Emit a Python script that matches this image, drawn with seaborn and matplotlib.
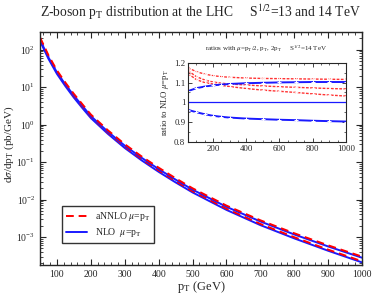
import numpy as np
import pandas as pd
import matplotlib
matplotlib.use("Agg")
import matplotlib.pyplot as plt
import seaborn as sns
from matplotlib.ticker import MultipleLocator, FixedLocator

# main panel: d sigma / d pT (pb/GeV)
pt = [50, 75, 100, 125, 150, 175, 200, 250, 300, 350, 400, 450, 500, 600, 700, 800, 900, 1000]
annlo_14 = [214, 71, 28, 13.2, 6.6, 3.5, 1.86, 0.71, 0.30, 0.141, 0.071, 0.037, 0.020,
            0.0069, 0.0028, 0.00126, 6.0e-4, 3.0e-4]
nlo_14 = [185, 62, 24.8, 11.8, 5.95, 3.17, 1.69, 0.65, 0.275, 0.13, 0.065, 0.034, 0.0184,
          0.0064, 0.0026, 0.00117, 5.6e-4, 2.8e-4]
annlo_13 = [198, 65, 25.5, 11.8, 5.8, 3.05, 1.65, 0.62, 0.26, 0.121, 0.060, 0.031, 0.0167,
            0.0057, 0.00224, 0.00099, 4.6e-4, 2.25e-4]
nlo_13 = [171, 57, 22.6, 10.6, 5.25, 2.77, 1.5, 0.57, 0.238, 0.111, 0.055, 0.0287, 0.0155,
          0.0053, 0.00208, 0.00092, 4.3e-4, 2.1e-4]
pt_ticks = [100, 200, 300, 400, 500, 600, 700, 800, 900, 1000]

# inset: ratios to NLO mu=pT at 14 TeV
pt_r = [50, 100, 150, 200, 250, 300, 400, 500, 600, 700, 800, 900, 1000]
annlo_half = [1.175, 1.155, 1.143, 1.135, 1.13, 1.127, 1.123, 1.121, 1.12, 1.119, 1.118, 1.117, 1.116]
annlo_one = [1.16, 1.13, 1.113, 1.103, 1.097, 1.093, 1.088, 1.083, 1.079, 1.076, 1.073, 1.07, 1.068]
annlo_two = [1.145, 1.115, 1.10, 1.093, 1.086, 1.08, 1.07, 1.062, 1.056, 1.05, 1.043, 1.037, 1.032]
nlo_half = [1.057, 1.072, 1.08, 1.086, 1.09, 1.093, 1.097, 1.099, 1.101, 1.102, 1.103, 1.103, 1.103]
nlo_one = [1.0] * len(pt_r)
nlo_two = [0.962, 0.95, 0.94, 0.932, 0.927, 0.923, 0.918, 0.915, 0.912, 0.91, 0.907, 0.905, 0.903]
r_ticks = [0.8, 0.9, 1.0, 1.1, 1.2]
r_labels = ['0.8', '0.9', '1', '1.1', '1.2']

sns.set_style("ticks")
plt.rcParams['font.family'] = ['Liberation Serif', 'DejaVu Serif']
plt.rcParams['mathtext.fontset'] = 'stix'
plt.rcParams['xtick.direction'] = 'in'
plt.rcParams['ytick.direction'] = 'in'
plt.rcParams['xtick.top'] = True
plt.rcParams['ytick.right'] = True
plt.rcParams['xtick.minor.visible'] = True

RED = '#ff0000'
BLUE = '#1a1aff'

fig = plt.figure(figsize=(3.74, 2.95), dpi=100)
ax = fig.add_axes([0.107, 0.102, 0.861, 0.790])

df = pd.DataFrame({'pt': pt, 'annlo14': annlo_14, 'nlo14': nlo_14,
                   'annlo13': annlo_13, 'nlo13': nlo_13})

sns.lineplot(data=df, x='pt', y='nlo13', color=BLUE, lw=1.4, ax=ax)
sns.lineplot(data=df, x='pt', y='annlo13', color=RED, lw=1.4, ax=ax,
             linestyle=(0, (4, 2.5)))
sns.lineplot(data=df, x='pt', y='nlo14', color=BLUE, lw=1.4, ax=ax, label=r'NLO  $\mu$=p$_{\rm T}$')
sns.lineplot(data=df, x='pt', y='annlo14', color=RED, lw=1.4, ax=ax,
             linestyle=(0, (4, 2.5)), label=r'aNNLO $\mu$=p$_{\rm T}$')

ax.set_yscale('log')
ax.set_xlim(50, 1000)
ax.set_ylim(1.8e-4, 300)
ax.xaxis.set_major_locator(FixedLocator(pt_ticks))
ax.xaxis.set_minor_locator(MultipleLocator(20))
ax.tick_params(which='major', length=4, width=0.8, labelsize=7)
ax.tick_params(which='minor', length=2, width=0.6)
for s in ax.spines.values():
    s.set_linewidth(1.0)
ax.set_xlabel(r'p$_{\rm T}$ (GeV)', fontsize=9, labelpad=0)
ax.set_ylabel(r'd$\sigma$/dp$_{\rm T}$ (pb/GeV)', fontsize=8)
ax.yaxis.set_label_coords(-0.076, 0.52)

h, l = ax.get_legend_handles_labels()
leg = ax.legend(h[::-1], l[::-1], loc='lower left', bbox_to_anchor=(0.068, 0.094),
                borderaxespad=0, fontsize=7, frameon=True, fancybox=False,
                handlelength=2.2, labelspacing=0.3, edgecolor='black')
leg.get_frame().set_linewidth(1.0)

fig.text(0.535, 0.958, r'Z-boson p$_{\rm T}$ distribution at the LHC     S$^{1/2}$=13 and 14 TeV',
         ha='center', va='center', fontsize=9.8)

# inset
ax2 = fig.add_axes([0.503, 0.519, 0.422, 0.268])
rf = pd.DataFrame({'pt': pt_r, 'a_half': annlo_half, 'a_one': annlo_one, 'a_two': annlo_two,
                   'n_half': nlo_half, 'n_one': nlo_one, 'n_two': nlo_two})
for col in ['a_half', 'a_one', 'a_two']:
    sns.lineplot(data=rf, x='pt', y=col, color=RED, lw=1.0, alpha=0.8, ax=ax2,
                 marker='+', markersize=3.5, markeredgewidth=0.7, linestyle=(0, (2, 1)))
for col in ['n_half', 'n_two']:
    sns.lineplot(data=rf, x='pt', y=col, color=BLUE, lw=1.4, ax=ax2,
                 marker='+', markersize=3.5, markeredgewidth=0.7)
sns.lineplot(data=rf, x='pt', y='n_one', color=BLUE, lw=0.9, ax=ax2)

ax2.set_xlim(50, 1000)
ax2.set_ylim(0.8, 1.2)
ax2.xaxis.set_major_locator(FixedLocator(pt_ticks[1::2]))
ax2.xaxis.set_minor_locator(MultipleLocator(50))
ax2.yaxis.set_major_locator(FixedLocator(r_ticks))
ax2.yaxis.set_minor_locator(MultipleLocator(0.05))
ax2.set_yticklabels(r_labels)
ax2.tick_params(which='major', length=3, width=0.6, labelsize=6.3, pad=2)
ax2.tick_params(which='minor', length=1.5, width=0.5)
for s in ax2.spines.values():
    s.set_linewidth(0.8)
ax2.set_xlabel('')
ax2.set_ylabel(r'ratio to NLO $\mu$=p$_{\rm T}$', fontsize=6.3, labelpad=2)
fig.text(0.711, 0.835, r'ratios with $\mu$=p$_{\rm T}$/2, p$_{\rm T}$, 2p$_{\rm T}$     S$^{1/2}$=14 TeV',
         ha='center', va='center', fontsize=5)

fig.savefig('out.png', dpi=100)
